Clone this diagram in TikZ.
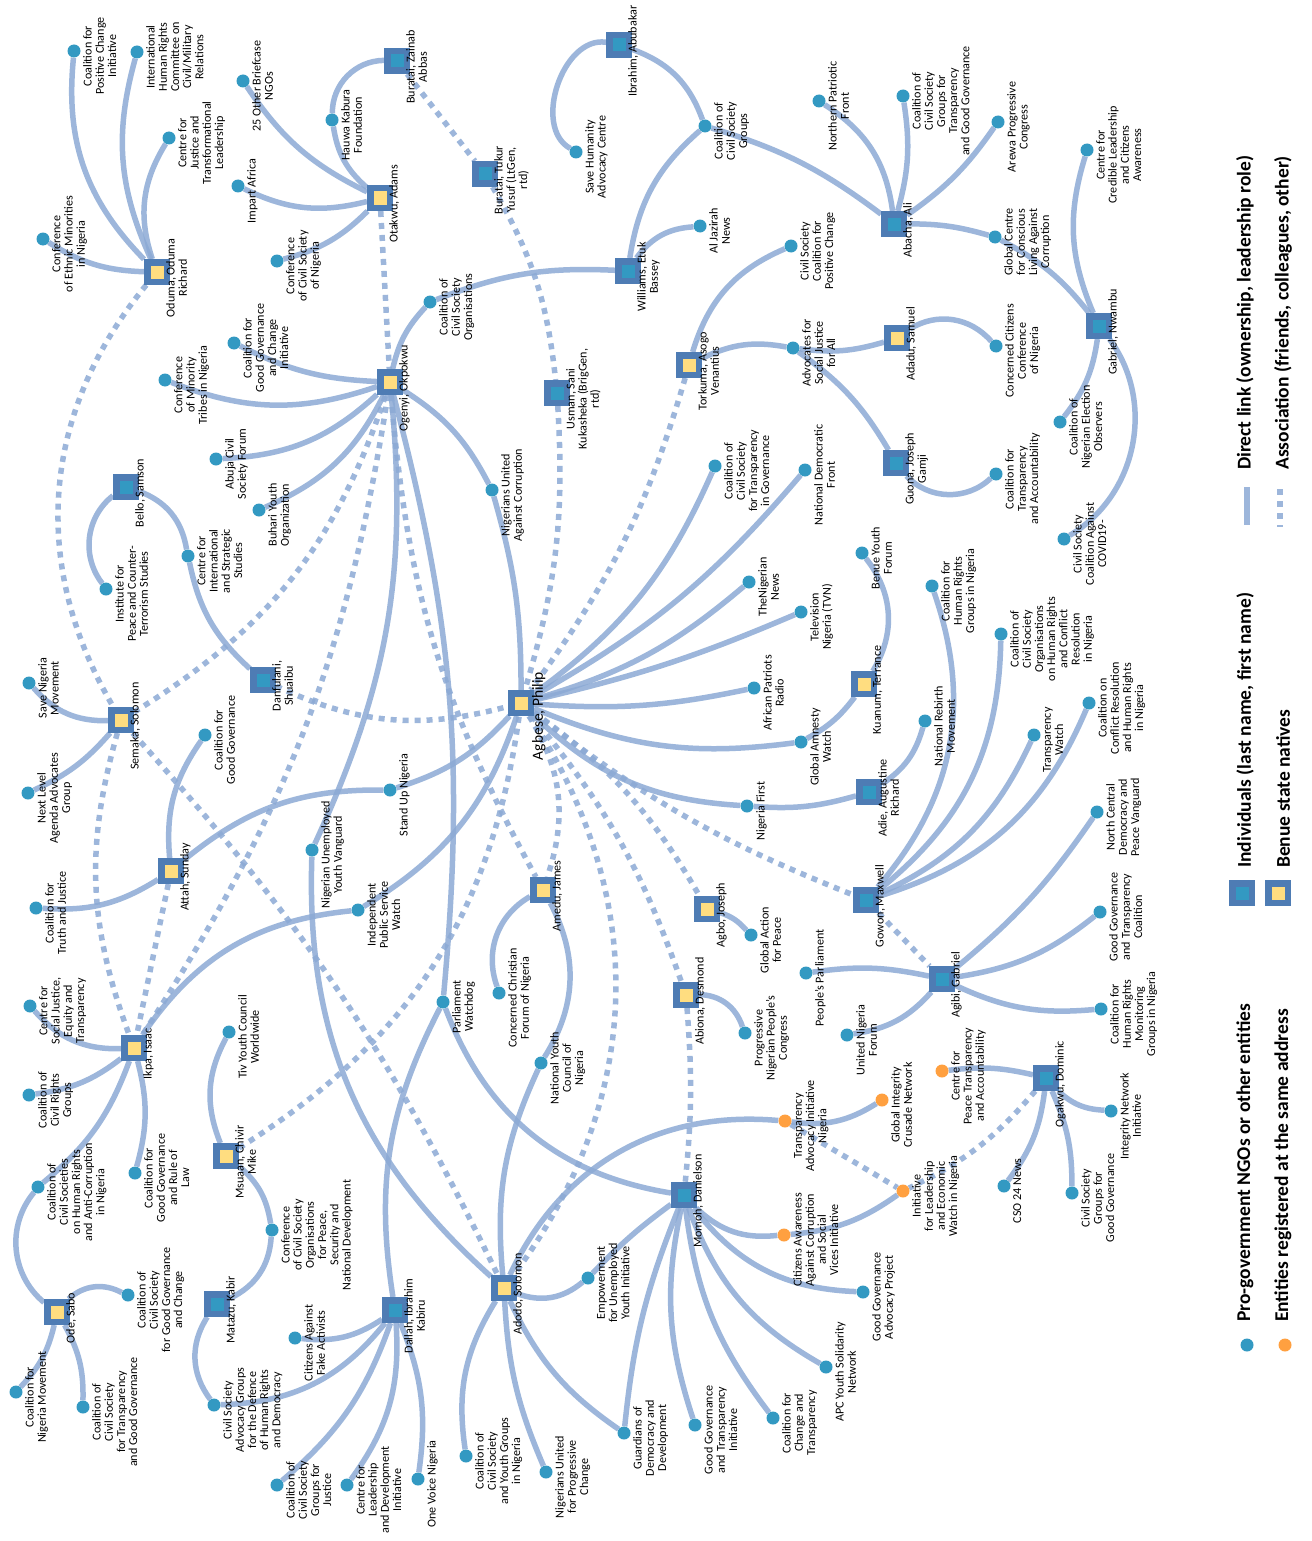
\documentclass[tikz,border=0pt]{standalone}
\usepackage{fontspec}
\setmainfont{Carlito}
\pgfdeclarelayer{bg}
\pgfsetlayers{bg,main}
\definecolor{edgec}{RGB}{140,170,213}
\definecolor{sqout}{RGB}{78,124,180}
\definecolor{sqteal}{RGB}{51,153,194}
\definecolor{sqyel}{RGB}{255,221,128}
\definecolor{orng}{RGB}{255,160,64}
\tikzset{
 ind/.style={rectangle, minimum size=19.5pt, inner sep=0pt, line width=6.5pt, draw=sqout, fill=sqteal},
 indb/.style={ind, fill=sqyel},
 ngo/.style={circle, minimum size=13pt, inner sep=0pt, fill=sqteal},
 ngoo/.style={ngo, fill=orng},
 lab/.style={rotate=90, anchor=north, align=center, inner sep=0pt, font=\fontsize{12.1}{12.2}\selectfont},
 leg/.style={rotate=90, anchor=west, inner sep=0pt, font=\fontsize{19.5}{20}\selectfont\bfseries},
 lnk/.style={draw=edgec, line width=5.5pt, opacity=0.85},
 assoc/.style={lnk, dash pattern=on 6pt off 6pt},
}
\newcommand\indiv[5]{\node[#4] (#1) at (#2,#3) {};\node[lab] at (#2+9,#3+6) {#5};}
\newcommand\ngodot[5]{\node[#4] (#1) at (#2,#3) {};\node[lab] at (#2+9,#3+5) {#5};}
\newcommand\lnkA[3]{\draw[lnk] (#1) to[#3] (#2);}
\newcommand\lnkD[3]{\draw[assoc] (#1) to[#3] (#2);}
\begin{document}
\begin{tikzpicture}[x=1pt,y=-1pt]
\useasboundingbox (0,0) rectangle (1311,1541);
\begin{pgfonlayer}{bg}\fill[white] (0,0) rectangle (1311,1541);\end{pgfonlayer}
% individuals
\indiv{odu}{157}{272}{indb}{Oduma, Oduma\\Richard}
\indiv{ota}{380}{198}{indb}{Otakwu, Adams}
\indiv{bza}{397}{61}{ind}{Buratai, Zainab\\Abbas}
\indiv{btu}{485}{174}{ind}{Buratai, Tukur\\Yusuf (LtGen,\\rtd)}
\indiv{ibr}{619}{45}{ind}{Ibrahim, Abubakar}
\indiv{wil}{628}{271}{ind}{Williams, Etuk\\Bassey}
\indiv{aba}{894}{224}{ind}{Abacha, Ali}
\indiv{gab}{1099}{326}{ind}{Gabriel, Nwambu}
\indiv{ada}{897}{338}{indb}{Adadu, Samuel}
\indiv{tor}{689}{365}{indb}{Torkuma, Asogo\\Venantius}
\indiv{guo}{896}{463}{ind}{Guona, Joseph\\Gamji}
\indiv{usm}{557}{393}{ind}{Usman, Sani\\Kukasheka (BrigGen,\\rtd)}
\indiv{oge}{390}{382}{indb}{Ogenyi, Okpokwu}
\indiv{bel}{126}{487}{ind}{Bello, Samson}
\indiv{dan}{263}{680}{ind}{Danfulani,\\Shuaibu}
\node[indb] (agb) at (521,703) {};
\node[lab, font=\fontsize{15.5}{16}\selectfont] at (532,716) {Agbese, Philip};
\indiv{sem}{121}{720}{indb}{Semaka, Solomon}
\indiv{kua}{864}{684}{indb}{Kuanum, Terrance}
\indiv{adi}{869}{792}{ind}{Adie, Augustine\\Richard}
\indiv{gow}{866}{900}{ind}{Gowon, Maxwell}
\indiv{att}{171}{871}{indb}{Attah, Sunday}
\indiv{ame}{543}{890}{indb}{Amedu, James}
\indiv{agbo}{707}{909}{indb}{Agbo, Joseph}
\indiv{abi}{686}{995}{indb}{Abiona, Desmond}
\indiv{agi}{942}{979}{ind}{Agibi, Gabriel}
\indiv{ikp}{134}{1048}{indb}{Ikpa, Isaac}
\indiv{msu}{226}{1156}{indb}{Msuaan, Chivir\\Mike}
\indiv{oga}{1046}{1078}{ind}{Ogakwu, Dominic}
\indiv{mom}{684}{1195}{ind}{Momoh, Danielson}
\indiv{ado}{504}{1288}{indb}{Adodo, Solomon}
\indiv{ode}{57}{1312}{indb}{Ode, Sabo}
\indiv{mat}{217}{1304}{ind}{Matazu, Kabir}
\indiv{dal}{395}{1310}{ind}{Dallah, Ibrahim\\Kabiru}
% entities
\ngodot{cpci}{74}{51}{ngo}{Coalition for\\Positive Change\\Initiative}
\ngodot{ihrc}{137}{52}{ngo}{International\\Human Rights\\Committee on\\Civil/Military\\Relations}
\ngodot{cjtl}{169}{138}{ngo}{Centre for\\Justice and\\Transformational\\Leadership}
\ngodot{cemn}{43}{239}{ngo}{Conference\\of Ethnic Minorities\\in Nigeria}
\ngodot{tfo}{243}{81}{ngo}{25 Other Briefcase\\NGOs}
\ngodot{hkf}{332}{120}{ngo}{Hauwa Kabura\\Foundation}
\ngodot{ima}{238}{186}{ngo}{Impart Africa}
\ngodot{ccsn}{277}{261}{ngo}{Conference\\of Civil Society\\of Nigeria}
\ngodot{cggci}{234}{343}{ngo}{Coalition for\\Good Governance\\and Change\\Initiative}
\ngodot{cmtn}{165}{380}{ngo}{Conference\\of Minority\\Tribes in Nigeria}
\ngodot{ccso}{430}{302}{ngo}{Coalition of\\Civil Society\\Organisations}
\ngodot{shac}{576}{152}{ngo}{Save Humanity\\Advocacy Centre}
\ngodot{ccsg}{705}{126}{ngo}{Coalition of\\Civil Society\\Groups}
\ngodot{ajn}{700}{226}{ngo}{Al Jazirah\\News}
\ngodot{npf}{819}{101}{ngo}{Northern Patriotic\\Front}
\ngodot{cscpc}{791}{246}{ngo}{Civil Society\\Coalition for\\Positive Change}
\ngodot{asja}{793}{348}{ngo}{Advocates for\\Social Justice\\for All}
\ngodot{ccsgtgg}{903}{96}{ngo}{Coalition of\\Civil Society\\Groups for\\Transparency\\and Good Governance}
\ngodot{apc}{998}{122}{ngo}{Arewa Progressive\\Congress}
\ngodot{cclca}{1087}{150}{ngo}{Centre for\\Credible Leadership\\and Citizens\\Awareness}
\ngodot{gcclac}{995}{237}{ngo}{Global Centre\\for Conscious\\Living Against\\Corruption}
\ngodot{ccn}{996}{346}{ngo}{Concerned Citizens\\Conference\\of Nigeria}
\ngodot{cneo}{1060}{422}{ngo}{Coalition of\\Nigerian Election\\Observers}
\ngodot{cta}{996}{474}{ngo}{Coalition for\\Transparency\\and Accountability}
\ngodot{cscac}{1064}{539}{ngo}{Civil Society\\Coalition Against\\COVID19-}
\ngodot{byf}{862}{553}{ngo}{Benue Youth\\Forum}
\ngodot{chrgn}{932}{586}{ngo}{Coalition for\\Human Rights\\Groups in Nigeria}
\ngodot{ccsohr}{1001}{634}{ngo}{Coalition of\\Civil Society\\Organisations\\on Human Rights\\and Conflict\\Resolution\\in Nigeria}
\ngodot{nrm}{925}{721}{ngo}{National Rebirth\\Movement}
\ngodot{tw}{1034}{735}{ngo}{Transparency\\Watch}
\ngodot{ccrhr}{1089}{703}{ngo}{Coalition on\\Conflict Resolution\\and Human Rights\\in Nigeria}
\ngodot{nuac}{492}{490}{ngo}{Nigerians United\\Against Corruption}
\ngodot{ccstg}{715}{466}{ngo}{Coalition of\\Civil Society\\for Transparency\\in Governance}
\ngodot{ndf}{805}{470}{ngo}{National Democratic\\Front}
\ngodot{tnn}{749}{582}{ngo}{TheNigerian\\News}
\ngodot{tvn}{801}{612}{ngo}{Television\\Nigeria (TVN)}
\ngodot{apr}{754}{688}{ngo}{African Patriots\\Radio}
\ngodot{gaw}{801}{742}{ngo}{Global Amnesty\\Watch}
\ngodot{nf}{747}{806}{ngo}{Nigeria First}
\ngodot{ipcts}{106}{589}{ngo}{Institute for\\Peace and Counter-\\Terrorism Studies}
\ngodot{ciss}{188}{556}{ngo}{Centre for\\International\\and Strategic\\Studies}
\ngodot{acsf}{216}{459}{ngo}{Abuja Civil\\Society Forum}
\ngodot{byo}{259}{510}{ngo}{Buhari Youth\\Organization}
\ngodot{snm}{29}{683}{ngo}{Save Nigeria\\Movement}
\ngodot{nlaag}{28}{793}{ngo}{Next Level\\Agenda Advocates\\Group}
\ngodot{cgg}{205}{735}{ngo}{Coalition for\\Good Governance}
\ngodot{ctj}{36}{908}{ngo}{Coalition for\\Truth and Justice}
\ngodot{sun}{390}{790}{ngo}{Stand Up Nigeria}
\ngodot{nuyv}{312}{850}{ngo}{Nigerian Unemployed\\Youth Vanguard}
\ngodot{ipsw}{358}{910}{ngo}{Independent\\Public Service\\Watch}
\ngodot{csjet}{30}{1006}{ngo}{Centre for\\Social Justice,\\Equity and\\Transparency}
\ngodot{ccrg}{29}{1095}{ngo}{Coalition of\\Civil Rights\\Groups}
\ngodot{tycw}{229}{1032}{ngo}{Tiv Youth Council\\Worldwide}
\ngodot{pw}{443}{1002}{ngo}{Parliament\\Watchdog}
\ngodot{ccfn}{499}{993}{ngo}{Concerned Christian\\Forum of Nigeria}
\ngodot{nycn}{541}{1063}{ngo}{National Youth\\Council of\\Nigeria}
\ngodot{gap}{751}{935}{ngo}{Global Action\\for Peace}
\ngodot{pnpc}{745}{1033}{ngo}{Progressive\\Nigerian People's\\Congress}
\ngodot{pp}{806}{973}{ngo}{People's Parliament}
\ngodot{unf}{847}{1035}{ngo}{United Nigeria\\Forum}
\ngodot{ncdpv}{1097}{812}{ngo}{North Central\\Democracy and\\Peace Vanguard}
\ngodot{ggtc}{1100}{912}{ngo}{Good Governance\\and Transparency\\Coalition}
\ngodot{chrmg}{1101}{1009}{ngo}{Coalition for\\Human Rights\\Monitoring\\Groups in Nigeria}
\ngodot{tain}{785}{1121}{ngoo}{Transparency\\Advocacy Initiative\\Nigeria}
\ngodot{gicn}{882}{1100}{ngoo}{Global Integrity\\Crusade Network}
\ngodot{cpta}{942}{1071}{ngoo}{Centre for\\Peace Transparency\\and Accountability}
\ngodot{ini}{1111}{1111}{ngo}{Integrity Network\\Initiative}
\ngodot{ilewn}{903}{1191}{ngoo}{Initiative\\for Leadership\\and Economic\\Watch in Nigeria}
\ngodot{cso}{1004}{1186}{ngo}{CSO 24 News}
\ngodot{csggg}{1072}{1193}{ngo}{Civil Society\\Groups for\\Good Governance}
\ngodot{caac}{784}{1235}{ngoo}{Citizens Awareness\\Against Corruption\\and Social\\Vices Initiative}
\ngodot{ccshr}{38}{1187}{ngo}{Coalition of\\Civil Societies\\on Human Rights\\and Anti-Corruption\\in Nigeria}
\ngodot{cggrl}{135}{1173}{ngo}{Coalition for\\Good Governance\\and Rule of\\Law}
\ngodot{ccsop}{272}{1230}{ngo}{Conference\\of Civil Society\\Organisations\\for Peace,\\Security and\\National Development}
\ngodot{ccsggc}{128}{1295}{ngo}{Coalition of\\Civil Society\\for Good Governance\\and Change}
\ngodot{cnm}{16}{1392}{ngo}{Coalition for\\Nigeria Movement}
\ngodot{ccstgg}{83}{1407}{ngo}{Coalition of\\Civil Society\\for Transparency\\and Good Governance}
\ngodot{csag}{214}{1405}{ngo}{Civil Society\\Advocacy Groups\\for the Defence\\of Human Rights\\and Democracy}
\ngodot{cafa}{295}{1338}{ngo}{Citizens Against\\Fake Activists}
\ngodot{ccsgj}{277}{1485}{ngo}{Coalition of\\Civil Society\\Groups for\\Justice}
\ngodot{cldi}{347}{1485}{ngo}{Centre for\\Leadership\\and Development\\Initiative}
\ngodot{ovn}{418}{1479}{ngo}{One Voice Nigeria}
\ngodot{euyi}{588}{1278}{ngo}{Empowerment\\for Unemployed\\Youth Initiative}
\ngodot{ccsyg}{466}{1456}{ngo}{Coalition of\\Civil Society\\and Youth Groups\\in Nigeria}
\ngodot{nupc}{546}{1472}{ngo}{Nigerians United\\for Progressive\\Change}
\ngodot{gdd}{624}{1433}{ngo}{Guardians of\\Democracy and\\Development}
\ngodot{ggti}{695}{1425}{ngo}{Good Governance\\and Transparency\\Initiative}
\ngodot{cct}{773}{1418}{ngo}{Coalition for\\Change and\\Transparency}
\ngodot{apcy}{826}{1367}{ngo}{APC Youth Solidarity\\Network}
\ngodot{ggap}{863}{1292}{ngo}{Good Governance\\Advocacy Project}
% legend
\node[ind] (lgI) at (1242,893) {};
\node[indb] (lgB) at (1278,893) {};
\node[ngo] (lgN) at (1247,1345) {};
\node[ngoo] (lgE) at (1285,1345) {};
\coordinate (lgS1) at (1247,487); \coordinate (lgS2) at (1247,525);
\coordinate (lgD1) at (1280,489); \coordinate (lgD2) at (1280,527);
\node[leg] at (1245,470) {Direct link (ownership, leadership role)};
\node[leg] at (1283,470) {Association (friends, colleagues, other)};
\node[leg] at (1245,868) {Individuals (last name, first name)};
\node[leg] at (1283,868) {Benue state natives};
\node[leg] at (1245,1322) {Pro-government NGOs or other entities};
\node[leg] at (1283,1322) {Entities registered at the same address};
\begin{pgfonlayer}{bg}
\draw[lnk] (lgS1) -- (lgS2);
\draw[assoc] (lgD1) -- (lgD2);
% direct links
\lnkA{odu}{cpci}{bend left=25}
\lnkA{odu}{ihrc}{bend left=20}
\lnkA{odu}{cjtl}{bend left=25}
\lnkA{odu}{cemn}{bend left=15}
\lnkA{ota}{tfo}{bend left=15}
\lnkA{ota}{hkf}{bend left=20}
\lnkA{hkf}{bza}{bend left=45}
\lnkA{ota}{ima}{bend left=20}
\lnkA{ota}{ccsn}{bend left=15}
\lnkA{ibr}{shac}{bend right=80}
\lnkA{ibr}{ccsg}{bend left=25}
\lnkA{ccsg}{wil}{bend right=20}
\lnkA{ccsg}{aba}{bend left=10}
\lnkA{wil}{ccso}{bend right=12}
\lnkA{wil}{ajn}{bend left=25}
\lnkA{aba}{npf}{bend right=25}
\lnkA{aba}{ccsgtgg}{bend right=12}
\lnkA{aba}{apc}{bend right=10}
\lnkA{aba}{gcclac}{bend left=8}
\lnkA{gcclac}{gab}{bend left=12}
\lnkA{gab}{cclca}{bend left=20}
\lnkA{gab}{cneo}{bend left=15}
\lnkA{gab}{cscac}{bend left=48}
\lnkA{ada}{ccn}{bend left=40}
\lnkA{asja}{ada}{bend right=12}
\lnkA{tor}{asja}{bend left=18}
\lnkA{asja}{guo}{bend left=12}
\lnkA{guo}{cta}{bend right=45}
\lnkA{tor}{cscpc}{bend left=25}
\lnkA{oge}{ccso}{bend left=15}
\lnkA{oge}{cggci}{bend left=12}
\lnkA{oge}{cmtn}{bend left=20}
\lnkA{oge}{acsf}{bend left=20}
\lnkA{oge}{byo}{bend left=20}
\lnkA{oge}{nuac}{bend left=15}
\lnkA{nuac}{agb}{bend left=8}
\lnkA{oge}{nuyv}{bend left=15}
\lnkA{nuyv}{ado}{bend right=25}
\lnkA{oge}{pw}{bend left=10}
\lnkA{pw}{mom}{bend right=30}
\lnkA{pw}{dal}{bend right=18}
\lnkA{sem}{snm}{bend left=25}
\lnkA{sem}{nlaag}{bend left=12}
\lnkA{bel}{ipcts}{bend right=45}
\lnkA{bel}{ciss}{bend left=30}
\lnkA{ciss}{dan}{bend right=18}
\lnkA{att}{ctj}{bend left=18}
\lnkA{att}{cgg}{bend left=20}
\lnkA{att}{sun}{bend left=20}
\lnkA{sun}{agb}{bend right=15}
\lnkA{ikp}{csjet}{bend left=25}
\lnkA{ikp}{ccrg}{bend left=15}
\lnkA{ikp}{ccshr}{bend left=15}
\lnkA{ikp}{cggrl}{bend left=15}
\lnkA{ikp}{ipsw}{bend left=25}
\lnkA{ipsw}{agb}{bend right=20}
\lnkA{msu}{tycw}{bend left=25}
\lnkA{msu}{ccsop}{bend left=20}
\lnkA{mat}{ccsop}{bend right=30}
\lnkA{mat}{csag}{bend right=35}
\lnkA{csag}{dal}{bend right=25}
\lnkA{agb}{ccstg}{bend right=15}
\lnkA{agb}{ndf}{bend right=10}
\lnkA{agb}{tnn}{bend right=12}
\lnkA{agb}{tvn}{bend right=5}
\lnkA{agb}{apr}{bend right=8}
\lnkA{agb}{gaw}{bend right=15}
\lnkA{gaw}{kua}{bend right=12}
\lnkA{kua}{byf}{bend right=35}
\lnkA{agb}{nf}{bend right=20}
\lnkA{nf}{adi}{bend right=10}
\lnkA{adi}{nrm}{bend right=20}
\lnkA{gow}{chrgn}{bend right=30}
\lnkA{gow}{ccsohr}{bend right=25}
\lnkA{gow}{tw}{bend right=20}
\lnkA{gow}{ccrhr}{bend right=25}
\lnkA{agi}{pp}{bend right=10}
\lnkA{agi}{unf}{bend left=20}
\lnkA{agi}{ncdpv}{bend right=8}
\lnkA{agi}{ggtc}{bend right=15}
\lnkA{agi}{chrmg}{bend right=15}
\lnkA{agbo}{gap}{bend left=15}
\lnkA{abi}{pnpc}{bend left=35}
\lnkA{ame}{ccfn}{bend right=40}
\lnkA{ame}{nycn}{bend left=30}
\lnkA{nycn}{ado}{bend right=15}
\lnkA{ado}{tain}{bend left=35}
\lnkA{tain}{gicn}{bend right=20}
\lnkA{mom}{caac}{bend right=25}
\lnkA{caac}{ilewn}{bend right=15}
\lnkA{oga}{cpta}{bend right=10}
\lnkA{oga}{ini}{bend right=20}
\lnkA{oga}{cso}{bend left=15}
\lnkA{oga}{csggg}{bend left=12}
\lnkA{ado}{euyi}{bend right=30}
\lnkA{euyi}{mom}{bend left=5}
\lnkA{mom}{gdd}{bend right=8}
\lnkA{ado}{gdd}{bend right=15}
\lnkA{mom}{ggti}{bend right=15}
\lnkA{mom}{cct}{bend right=15}
\lnkA{mom}{apcy}{bend right=20}
\lnkA{mom}{ggap}{bend right=25}
\lnkA{ado}{ccsyg}{bend right=20}
\lnkA{ado}{nupc}{bend right=10}
\lnkA{dal}{cafa}{bend left=20}
\lnkA{dal}{ccsgj}{bend left=15}
\lnkA{dal}{cldi}{bend left=20}
\lnkA{dal}{ovn}{bend left=15}
\lnkA{ode}{ccshr}{bend left=45}
\lnkA{ode}{ccsggc}{bend left=35}
\lnkA{ode}{cnm}{bend left=15}
\lnkA{ode}{ccstgg}{bend left=15}
% associations
\lnkD{odu}{sem}{bend right=35}
\lnkD{sem}{ikp}{bend right=18}
\lnkD{sem}{oge}{bend right=20}
\lnkD{sem}{ado}{bend left=8}
\lnkD{ota}{oge}{bend left=0}
\lnkD{bza}{btu}{bend left=0}
\lnkD{btu}{usm}{bend left=12}
\lnkD{usm}{agb}{bend left=10}
\lnkD{tor}{agb}{bend left=10}
\lnkD{dan}{agb}{bend right=20}
\lnkD{oge}{ikp}{bend left=12}
\lnkD{oge}{ame}{bend right=12}
\lnkD{att}{ikp}{bend left=0}
\lnkD{msu}{agb}{bend right=25}
\lnkD{agb}{ame}{bend left=25}
\lnkD{agb}{ado}{bend left=35}
\lnkD{agb}{abi}{bend left=10}
\lnkD{abi}{mom}{bend left=5}
\lnkD{agb}{agbo}{bend left=12}
\lnkD{agb}{gow}{bend right=8}
\lnkD{gow}{agi}{bend left=0}
\lnkD{tain}{ilewn}{bend left=0}
\lnkD{oga}{ilewn}{bend left=12}
\end{pgfonlayer}
\end{tikzpicture}
\end{document}
